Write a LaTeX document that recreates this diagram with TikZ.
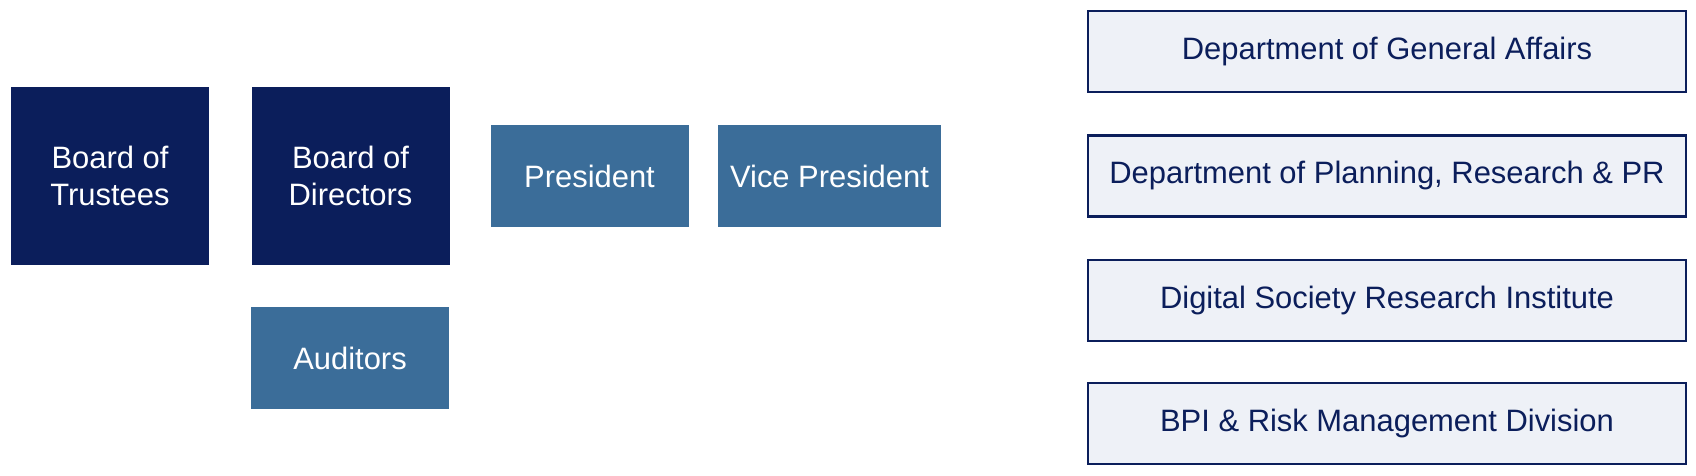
\documentclass[tikz,border=0pt]{standalone}
\usepackage{fontspec}
\setmainfont{Liberation Sans}
\usetikzlibrary{positioning}
\definecolor{navy}{HTML}{0B1E5B}
\definecolor{steel}{HTML}{3B6D99}
\definecolor{pale}{HTML}{EEF1F7}
\definecolor{link}{HTML}{D8D8D8}
\tikzset{
  darkbox/.style={fill=navy, text=white, minimum width=1.98cm, minimum height=1.78cm, align=center, outer sep=0pt, font=\fontsize{8.8}{10.6}\selectfont},
  bluebox/.style={fill=steel, text=white, minimum width=1.98cm, minimum height=1.02cm, align=center, outer sep=0pt, font=\fontsize{8.8}{10.6}\selectfont},
  deptbox/.style={fill=pale, draw=navy, line width=0.8pt, text=navy, minimum width=5.98cm, minimum height=0.81cm, outer sep=0pt, font=\fontsize{8.8}{10.6}\selectfont},
  conn/.style={draw=link, line width=2pt}
}
\begin{document}
\begin{tikzpicture}
\useasboundingbox (0,0) rectangle (16.96,4.76);
% connectors
\coordinate (spine top) at (10.09,4.26);
\coordinate (spine mid) at (10.09,3.00);
\coordinate (spine bot) at (10.09,0.53);

\node[darkbox] (trustees) at (1.10,3.00) {Board of\\Trustees};
\node[darkbox] (directors) at (3.505,3.00) {Board of\\Directors};
\node[bluebox] (auditors) at (3.50,1.18) {Auditors};
\node[bluebox] (president) at (5.895,3.00) {President};
\node[bluebox] (vice) at (8.295,3.00) {Vice President};

\node[deptbox] (general) at (13.87,4.245) {Department of General Affairs};
\node[deptbox] (planning) at (13.87,3.00) {Department of Planning, Research \& PR};
\node[deptbox] (digital) at (13.87,1.755) {Digital Society Research Institute};
\node[deptbox] (bpi) at (13.87,0.525) {BPI \& Risk Management Division};

\begin{scope}[on background layer/.style={}]
\end{scope}
\end{tikzpicture}
\end{document}
